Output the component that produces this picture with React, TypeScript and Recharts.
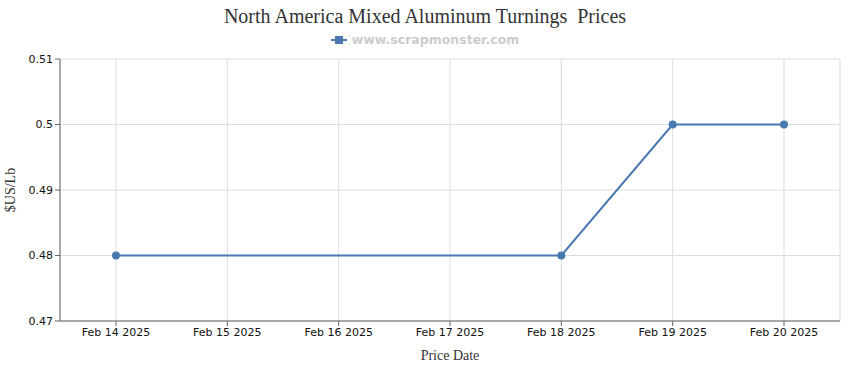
import { CartesianGrid, Line, LineChart, XAxis, YAxis } from "recharts"

const dates = ["Feb 14 2025", "Feb 15 2025", "Feb 16 2025", "Feb 17 2025", "Feb 18 2025", "Feb 19 2025", "Feb 20 2025"]
const prices: (number | null)[] = [0.48, null, null, null, 0.48, 0.5, 0.5]
const yTicks = [0.47, 0.48, 0.49, 0.5, 0.51]

const title = "North America Mixed Aluminum Turnings  Prices"
const seriesName = "www.scrapmonster.com"

const lineColor = "#4a78b0"
const tickStyle = { fontSize: 11, fill: "#111", fontFamily: "DejaVu Sans" }

function LegendBox() {
  return (
    <div
      style={{
        position: "absolute",
        top: 32,
        left: 0,
        width: 850,
        display: "flex",
        justifyContent: "center",
        alignItems: "center",
        gap: 5,
      }}
    >
      <svg width={16} height={10}>
        <line x1={0} y1={5} x2={16} y2={5} stroke={lineColor} strokeWidth={2} />
        <rect x={4} y={1} width={8} height={8} fill={lineColor} />
      </svg>
      <span style={{ fontFamily: "DejaVu Sans", fontWeight: "bold", fontSize: 12.5, color: "#cccccc" }}>
        {seriesName}
      </span>
    </div>
  )
}

export default function App() {
  const data = dates.map((d, i) => ({ date: d, price: prices[i] }))

  return (
    <div style={{ position: "absolute", top: 0, left: 0, width: 850, height: 370, background: "#fff" }}>
      <LineChart width={850} height={370} data={data} margin={{ top: 59, right: 10, bottom: 0, left: 0 }}>
        <CartesianGrid stroke="#dddddd" />
        <XAxis
          dataKey="date"
          padding={{ left: 56, right: 56 }}
          tick={tickStyle}
          tickLine={{ stroke: "#666" }}
          axisLine={{ stroke: "#666" }}
          tickSize={5}
          interval={0}
          height={49}
          label={{ value: "Price Date", position: "insideBottom", offset: 10, style: { fontFamily: "Liberation Serif", fontSize: 14, fill: "#333" } }}
        />
        <YAxis
          domain={[0.47, 0.51]}
          ticks={yTicks}
          tick={tickStyle}
          tickLine={{ stroke: "#666" }}
          axisLine={{ stroke: "#666" }}
          tickSize={5}
          width={60}
          label={{ value: "$US/Lb", angle: -90, position: "insideLeft", offset: 10, style: { fontFamily: "Liberation Serif", fontSize: 14, fill: "#333", textAnchor: "middle" } }}
        />
        <Line
          type="linear"
          dataKey="price"
          name={seriesName}
          stroke={lineColor}
          strokeWidth={2}
          connectNulls
          dot={{ r: 4, fill: lineColor, stroke: lineColor, strokeWidth: 0 }}
          isAnimationActive={false}
        />
      </LineChart>
      <div
        style={{
          position: "absolute",
          top: 5,
          left: 0,
          width: 850,
          textAlign: "center",
          whiteSpace: "pre",
          fontFamily: "Liberation Serif",
          fontSize: 20,
          color: "#333",
        }}
      >
        {title}
      </div>
      <LegendBox />
    </div>
  )
}
